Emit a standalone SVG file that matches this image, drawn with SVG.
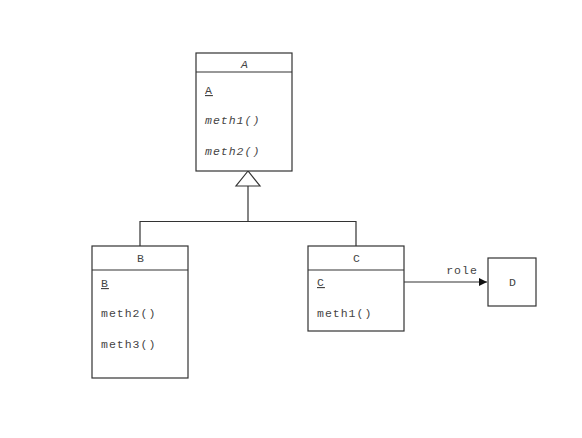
<svg xmlns="http://www.w3.org/2000/svg" width="582" height="438" viewBox="0 0 582 438">
<style>
.box{fill:#fff;stroke:#333;stroke-width:1.2}
.ln{stroke:#333;stroke-width:1.2;fill:none}
text{font-family:"Liberation Mono","Courier New",monospace;font-size:11.5px;letter-spacing:1px;fill:#444}
.c{text-anchor:middle}
.i{font-style:italic}
.u{text-decoration:underline}
</style>
<defs>
<marker id="arr" markerWidth="10" markerHeight="10" refX="8" refY="4" orient="auto" markerUnits="userSpaceOnUse">
<path d="M0,0 L8,4 L0,8 Z" fill="#111"/>
</marker>
</defs>
<rect width="582" height="438" fill="#fff"/>
<g id="connectors">
<polyline class="ln" points="140,246 140,221.5 356,221.5 356,246"/>
<line class="ln" x1="248" y1="186" x2="248" y2="221.5"/>
<polygon points="248,171 236,186 260,186" fill="#fff" stroke="#333" stroke-width="1.2"/>
<line class="ln" x1="404" y1="282" x2="487" y2="282" marker-end="url(#arr)"/>
<text class="c" x="462" y="274">role</text>
</g>
<g id="A">
<rect class="box" x="196" y="53" width="96" height="118"/>
<line class="ln" x1="196" y1="72" x2="292" y2="72"/>
<text class="c i" x="245" y="68">A</text>
<text class="u" x="205" y="94">A</text>
<text class="i" x="205" y="124">meth1()</text>
<text class="i" x="205" y="155">meth2()</text>
</g>
<g id="B">
<rect class="box" x="92" y="246" width="96" height="132"/>
<line class="ln" x1="92" y1="270" x2="188" y2="270"/>
<text class="c" x="141" y="262">B</text>
<text class="u" x="101" y="287">B</text>
<text x="101" y="317">meth2()</text>
<text x="101" y="348">meth3()</text>
</g>
<g id="C">
<rect class="box" x="308" y="246" width="96" height="85"/>
<line class="ln" x1="308" y1="270" x2="404" y2="270"/>
<text class="c" x="357" y="262">C</text>
<text class="u" x="317" y="286">C</text>
<text x="317" y="317">meth1()</text>
</g>
<g id="D">
<rect class="box" x="488" y="258" width="48" height="48"/>
<text class="c" x="513" y="286">D</text>
</g>
</svg>
